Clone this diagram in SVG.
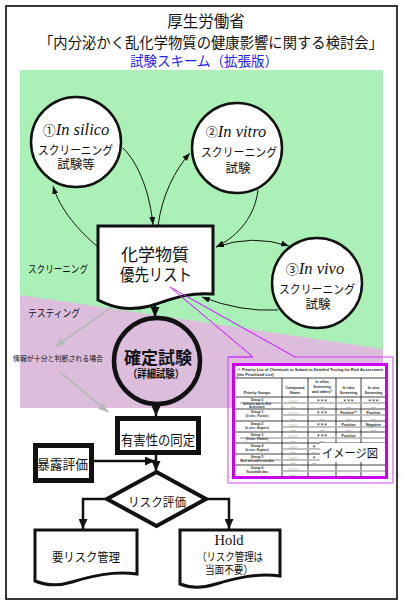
<svg xmlns="http://www.w3.org/2000/svg" width="405" height="607" viewBox="0 0 405 607">
<style>
.jp{font-family:"Liberation Sans","Noto Sans CJK JP",sans-serif;fill:#111}
.it{font-family:"Liberation Serif",serif;font-style:italic;fill:#111}
.sf{font-family:"Liberation Serif",serif;fill:#111}
.tb{font-family:"Liberation Sans",Arial,"Noto Sans CJK JP",sans-serif;font-weight:bold;fill:#222}
.thin{fill:none;stroke:#111;stroke-width:1}
.thick{fill:none;stroke:#111;stroke-width:2.5}
.gray{fill:none;stroke:#b8b8b8;stroke-width:2}
.tl{stroke:#111;stroke-width:0.8}
.gl{stroke:#b0b0b0;stroke-width:1.3}
</style>
<defs>
<marker id="ah" markerUnits="userSpaceOnUse" markerWidth="8" markerHeight="6" refX="8" refY="3" orient="auto-start-reverse"><path d="M0,0 L8,3 L0,6 z" fill="#111"/></marker>
<marker id="ahb" markerUnits="userSpaceOnUse" markerWidth="10" markerHeight="9" refX="10" refY="4.5" orient="auto"><path d="M0,0 L10,4.5 L0,9 z" fill="#111"/></marker>
<marker id="ahg" markerUnits="userSpaceOnUse" markerWidth="10" markerHeight="8" refX="10" refY="4" orient="auto"><path d="M0,0 L10,4 L0,8 z" fill="#b8b8b8"/></marker>
</defs>
<rect x="0" y="0" width="405" height="607" fill="#fff"/>
<rect x="6" y="6" width="391" height="593" fill="none" stroke="#222" stroke-width="1.8"/>
<g id="title">
<text class="jp" x="206" y="27" font-size="15.5" text-anchor="middle">厚生労働省</text>
<text class="jp" x="39" y="48" font-size="14.5" textLength="344" lengthAdjust="spacingAndGlyphs">「内分泌かく乱化学物質の健康影響に関する検討会」</text>
<text class="jp" x="204" y="66" font-size="14" text-anchor="middle" style="fill:#2222ee" textLength="148" lengthAdjust="spacingAndGlyphs">試験スキーム（拡張版）</text>
</g>
<g id="regions">
<rect x="20" y="70" width="363" height="338" fill="#aaf0b7"/>
<polygon points="20,295 383,349 383,408 20,408" fill="#dcbedc"/>
<text class="jp" x="28" y="273" font-size="10.5" textLength="60" lengthAdjust="spacingAndGlyphs">スクリーニング</text>
<text class="jp" x="28" y="317" font-size="10.5" textLength="52" lengthAdjust="spacingAndGlyphs">テスティング</text>
<text class="jp" x="13" y="361" font-size="7" textLength="90" lengthAdjust="spacingAndGlyphs">情報が十分と判断される場合</text>
</g>
<g id="connectors">
<path class="thin" d="M98 247 C80 232 60 210 53 186" marker-end="url(#ah)"/>
<path class="thin" d="M123 148 C140 165 150 195 153 225" marker-end="url(#ah)"/>
<path class="thin" d="M158 226 C162 195 175 170 190 153" marker-end="url(#ah)"/>
<path class="thin" d="M258 190 C255 215 240 235 216 247" marker-end="url(#ah)"/>
<path class="thin" d="M216 247 Q252 234 289 246" marker-start="url(#ah)" marker-end="url(#ah)"/>
<path class="thin" d="M278 310 Q240 312 202 297" marker-end="url(#ah)"/>
<line class="thick" x1="155" y1="304" x2="155" y2="317" marker-end="url(#ahb)"/>
<line class="thick" x1="156" y1="404" x2="156" y2="416" marker-end="url(#ahb)"/>
<line class="thick" x1="156" y1="454" x2="156" y2="471" marker-end="url(#ahb)"/>
<line class="thick" x1="93" y1="461" x2="155" y2="461" marker-end="url(#ahb)"/>
<polyline class="thick" points="106,499 83,499 83,529" marker-end="url(#ahb)"/>
<polyline class="thick" points="207,499 229,499 229,529" marker-end="url(#ahb)"/>
<line class="gray" x1="112" y1="307" x2="55" y2="347" marker-end="url(#ahg)"/>
<line class="gray" x1="60" y1="372" x2="108" y2="412" marker-end="url(#ahg)"/>
<path d="M228 357 L253 357 L170 287 L295 357 L393 357 L393 483 L228 483 Z" fill="none" stroke="#d040ff" stroke-width="1"/>
</g>
<g id="n_insilico">
<circle cx="76" cy="142" r="45" fill="#fff" stroke="#111" stroke-width="2.5"/>
<text x="76" y="135" text-anchor="middle"><tspan class="jp" font-size="13">①</tspan><tspan class="it" font-size="16.5">In silico</tspan></text>
<text class="jp" x="38" y="155" font-size="12" textLength="75" lengthAdjust="spacingAndGlyphs">スクリーニング</text>
<text class="jp" x="76" y="169" font-size="12.5" text-anchor="middle">試験等</text>
</g>
<g id="n_invitro">
<circle cx="237" cy="148" r="45" fill="#fff" stroke="#111" stroke-width="2.5"/>
<text x="236" y="137" text-anchor="middle"><tspan class="jp" font-size="12">②</tspan><tspan class="it" font-size="16.5">In vitro</tspan></text>
<text class="jp" x="201" y="157" font-size="12" textLength="76" lengthAdjust="spacingAndGlyphs">スクリーニング</text>
<text class="jp" x="238" y="173" font-size="12.5" text-anchor="middle">試験</text>
</g>
<g id="n_invivo">
<circle cx="317" cy="283" r="45" fill="#fff" stroke="#111" stroke-width="2.5"/>
<text x="315" y="274" text-anchor="middle"><tspan class="jp" font-size="13">③</tspan><tspan class="it" font-size="16.5">In vivo</tspan></text>
<text class="jp" x="279" y="294" font-size="12" textLength="76" lengthAdjust="spacingAndGlyphs">スクリーニング</text>
<text class="jp" x="318" y="309" font-size="12.5" text-anchor="middle">試験</text>
</g>
<g id="n_list">
<path d="M98 226 H213 V294 C185 292 170 300 150 306 C125 312 110 306 98 300 Z" fill="#fff" stroke="#111" stroke-width="3"/>
<text class="jp" x="155" y="261" font-size="17" text-anchor="middle">化学物質</text>
<text class="jp" x="156" y="281" font-size="17" text-anchor="middle" textLength="72" lengthAdjust="spacingAndGlyphs">優先リスト</text>
</g>
<path d="M228 357 L253 357 L170 287 L295 357" fill="none" stroke="#cc33ff" stroke-width="1"/>
<g id="n_confirm">
<circle cx="157" cy="361" r="43" fill="none" stroke="#111" stroke-width="4.5"/>
<text class="jp" x="158" y="363.5" font-size="17" font-weight="bold" text-anchor="middle">確定試験</text>
<text class="jp" x="156" y="378" font-size="11" font-weight="bold" text-anchor="middle" textLength="56" lengthAdjust="spacingAndGlyphs">（詳細試験）</text>
</g>
<g id="n_hazard">
<rect x="117.5" y="418.5" width="81" height="34" fill="#fff" stroke="#111" stroke-width="5"/>
<text class="jp" x="121" y="445" font-size="13.5" textLength="74" lengthAdjust="spacingAndGlyphs">有害性の同定</text>
</g>
<g id="n_exposure">
<rect x="35.5" y="445.5" width="56" height="35" fill="#fff" stroke="#111" stroke-width="5"/>
<text class="jp" x="37" y="469" font-size="13" textLength="51" lengthAdjust="spacingAndGlyphs">暴露評価</text>
</g>
<g id="n_risk">
<polygon points="156.5,472 206,499 156.5,526 107,499" fill="#fff" stroke="#111" stroke-width="4" stroke-linejoin="miter"/>
<text class="jp" x="157" y="507" font-size="12.5" text-anchor="middle" textLength="58" lengthAdjust="spacingAndGlyphs">リスク評価</text>
</g>
<g id="n_need">
<path d="M35 530 H137 V574 C112 571 92 576 72 582 C56 587 45 585 35 581 Z" fill="#fff" stroke="#111" stroke-width="3"/>
<text class="jp" x="86" y="562" font-size="12.5" text-anchor="middle" textLength="68" lengthAdjust="spacingAndGlyphs">要リスク管理</text>
</g>
<g id="n_hold">
<path d="M180 530 H280 V576 C256 573 236 578 216 584 C200 589 190 588 180 584 Z" fill="#fff" stroke="#111" stroke-width="3"/>
<text class="sf" x="229" y="545" font-size="14.5" text-anchor="middle">Hold</text>
<text class="jp" x="230" y="561" font-size="11" text-anchor="middle" textLength="66" lengthAdjust="spacingAndGlyphs">（リスク管理は</text>
<text class="jp" x="229" y="574" font-size="11" text-anchor="middle" textLength="48" lengthAdjust="spacingAndGlyphs">当面不要）</text>
</g>
<g id="n_table">
<rect x="233.5" y="364.5" width="153" height="113" fill="#fff" stroke="#cc00ee" stroke-width="3"/>
<text class="tb" x="237" y="371" font-size="3.9">※  Priority List of Chemicals to Submit to Detailed Testing for Risk Assessment</text>
<text class="tb" x="237" y="375.5" font-size="3.9">(the Prioritized List)</text>
<g>
<line class="tl" x1="235" y1="378" x2="385" y2="378"/>
<line class="tl" x1="235" y1="397" x2="385" y2="397"/>
<line class="tl" x1="235" y1="409" x2="385" y2="409"/>
<line class="tl" x1="235" y1="421" x2="385" y2="421"/>
<line class="tl" x1="235" y1="432" x2="385" y2="432"/>
<line class="tl" x1="235" y1="443" x2="385" y2="443"/>
<line class="tl" x1="235" y1="454" x2="385" y2="454"/>
<line class="tl" x1="235" y1="465" x2="385" y2="465"/>
<line class="tl" x1="282" y1="378" x2="282" y2="477"/>
<line class="tl" x1="308" y1="378" x2="308" y2="477"/>
<line class="tl" x1="336" y1="378" x2="336" y2="477"/>
<line class="tl" x1="361" y1="378" x2="361" y2="477"/>
<line class="gl" x1="240" y1="403" x2="385" y2="403"/>
<line class="gl" x1="282" y1="415" x2="385" y2="415"/>
<line class="gl" x1="282" y1="427" x2="385" y2="427"/>
<line class="gl" x1="240" y1="438" x2="385" y2="438"/>
<line class="gl" x1="282" y1="449" x2="385" y2="449"/>
<line class="gl" x1="240" y1="460" x2="385" y2="460"/>
<line class="gl" x1="282" y1="471" x2="385" y2="471"/>
</g>
<g font-size="3.6" text-anchor="middle">
<text class="tb" x="257" y="394">Priority Groups</text>
<text class="tb" x="295" y="389">Compound</text><text class="tb" x="295" y="393.5">Name</text>
<text class="tb" x="322" y="383">In silico</text><text class="tb" x="322" y="388">Screening</text><text class="tb" x="322" y="393">and others*</text>
<text class="tb" x="348.5" y="389">In vitro</text><text class="tb" x="348.5" y="394">Screening</text>
<text class="tb" x="373.5" y="389">In vivo</text><text class="tb" x="373.5" y="394">Screening</text>
</g>
<g font-size="3.3" text-anchor="middle">
<text class="tb" x="257" y="401">Group 0</text><text class="tb" x="257" y="404.5" font-size="2.6">Sufficient data for Risk</text><text class="tb" x="257" y="408" font-size="2.6">Assessment</text>
<text class="tb" x="257" y="413">Group 1</text><text class="tb" x="257" y="416.5" font-size="2.6">(In vitro : Positive)</text>
<text class="tb" x="257" y="425">Group 2</text><text class="tb" x="257" y="428.5" font-size="2.6">(In vitro : Negative)</text>
<text class="tb" x="257" y="436">Group 3</text><text class="tb" x="257" y="439.5" font-size="2.6">(In vivo : Positive)</text>
<text class="tb" x="257" y="447">Group 4</text><text class="tb" x="257" y="450.5" font-size="2.6">(In vivo : Negative)</text>
<text class="tb" x="257" y="458">Group 5</text><text class="tb" x="257" y="461.5" font-size="2.6">No in vitro and in vivo data</text>
<text class="tb" x="257" y="469">Group 6</text><text class="tb" x="257" y="472.5" font-size="2.6">No available data</text>
</g>
<g font-size="5" text-anchor="middle">
<text class="tb" x="293" y="403">○○○</text><text class="tb" x="293" y="415">○○○</text><text class="tb" x="293" y="427">○○○</text><text class="tb" x="293" y="438">○○○</text><text class="tb" x="293" y="449">○○○</text><text class="tb" x="293" y="460">○○○</text><text class="tb" x="293" y="471">○○○</text>
</g>
<g font-size="3.6" text-anchor="middle">
<text class="tb" x="293" y="408">.....</text><text class="tb" x="293" y="420">.....</text><text class="tb" x="293" y="431">.....</text><text class="tb" x="293" y="442">.....</text><text class="tb" x="293" y="453">.....</text><text class="tb" x="293" y="464">.....</text><text class="tb" x="293" y="476">.....</text>
<text class="tb" x="322" y="402">＊＊＊</text><text class="tb" x="348.5" y="402">＊＊＊</text><text class="tb" x="373.5" y="402">＊＊＊</text>
<text class="tb" x="322" y="408">.....</text><text class="tb" x="348.5" y="408">.....</text><text class="tb" x="373.5" y="408">.....</text>
<text class="tb" x="322" y="414">＊＊＊</text><text class="tb" x="348.5" y="414">Positive**</text><text class="tb" x="373.5" y="414">Positive</text>
<text class="tb" x="322" y="420">.....</text><text class="tb" x="348.5" y="420">.....</text><text class="tb" x="373.5" y="420">.....</text>
<text class="tb" x="322" y="426">＊＊＊</text><text class="tb" x="348.5" y="426">Positive</text><text class="tb" x="373.5" y="426">Negative</text>
<text class="tb" x="322" y="431">.....</text><text class="tb" x="348.5" y="431">.....</text><text class="tb" x="373.5" y="431">.....</text>
<text class="tb" x="322" y="437">＊＊＊</text><text class="tb" x="348.5" y="437">Positive</text>
<text class="tb" x="322" y="442">.....</text>
<text class="tb" x="314" y="448">＊</text><text class="tb" x="314" y="453">.....</text>
<text class="tb" x="314" y="459">＊</text><text class="tb" x="314" y="464">.....</text>
</g>
<rect x="320" y="443" width="65" height="19" fill="#fff"/>
<text class="jp" x="322" y="458" font-size="12.5" textLength="56" lengthAdjust="spacingAndGlyphs">イメージ図</text>
</g>
</svg>
